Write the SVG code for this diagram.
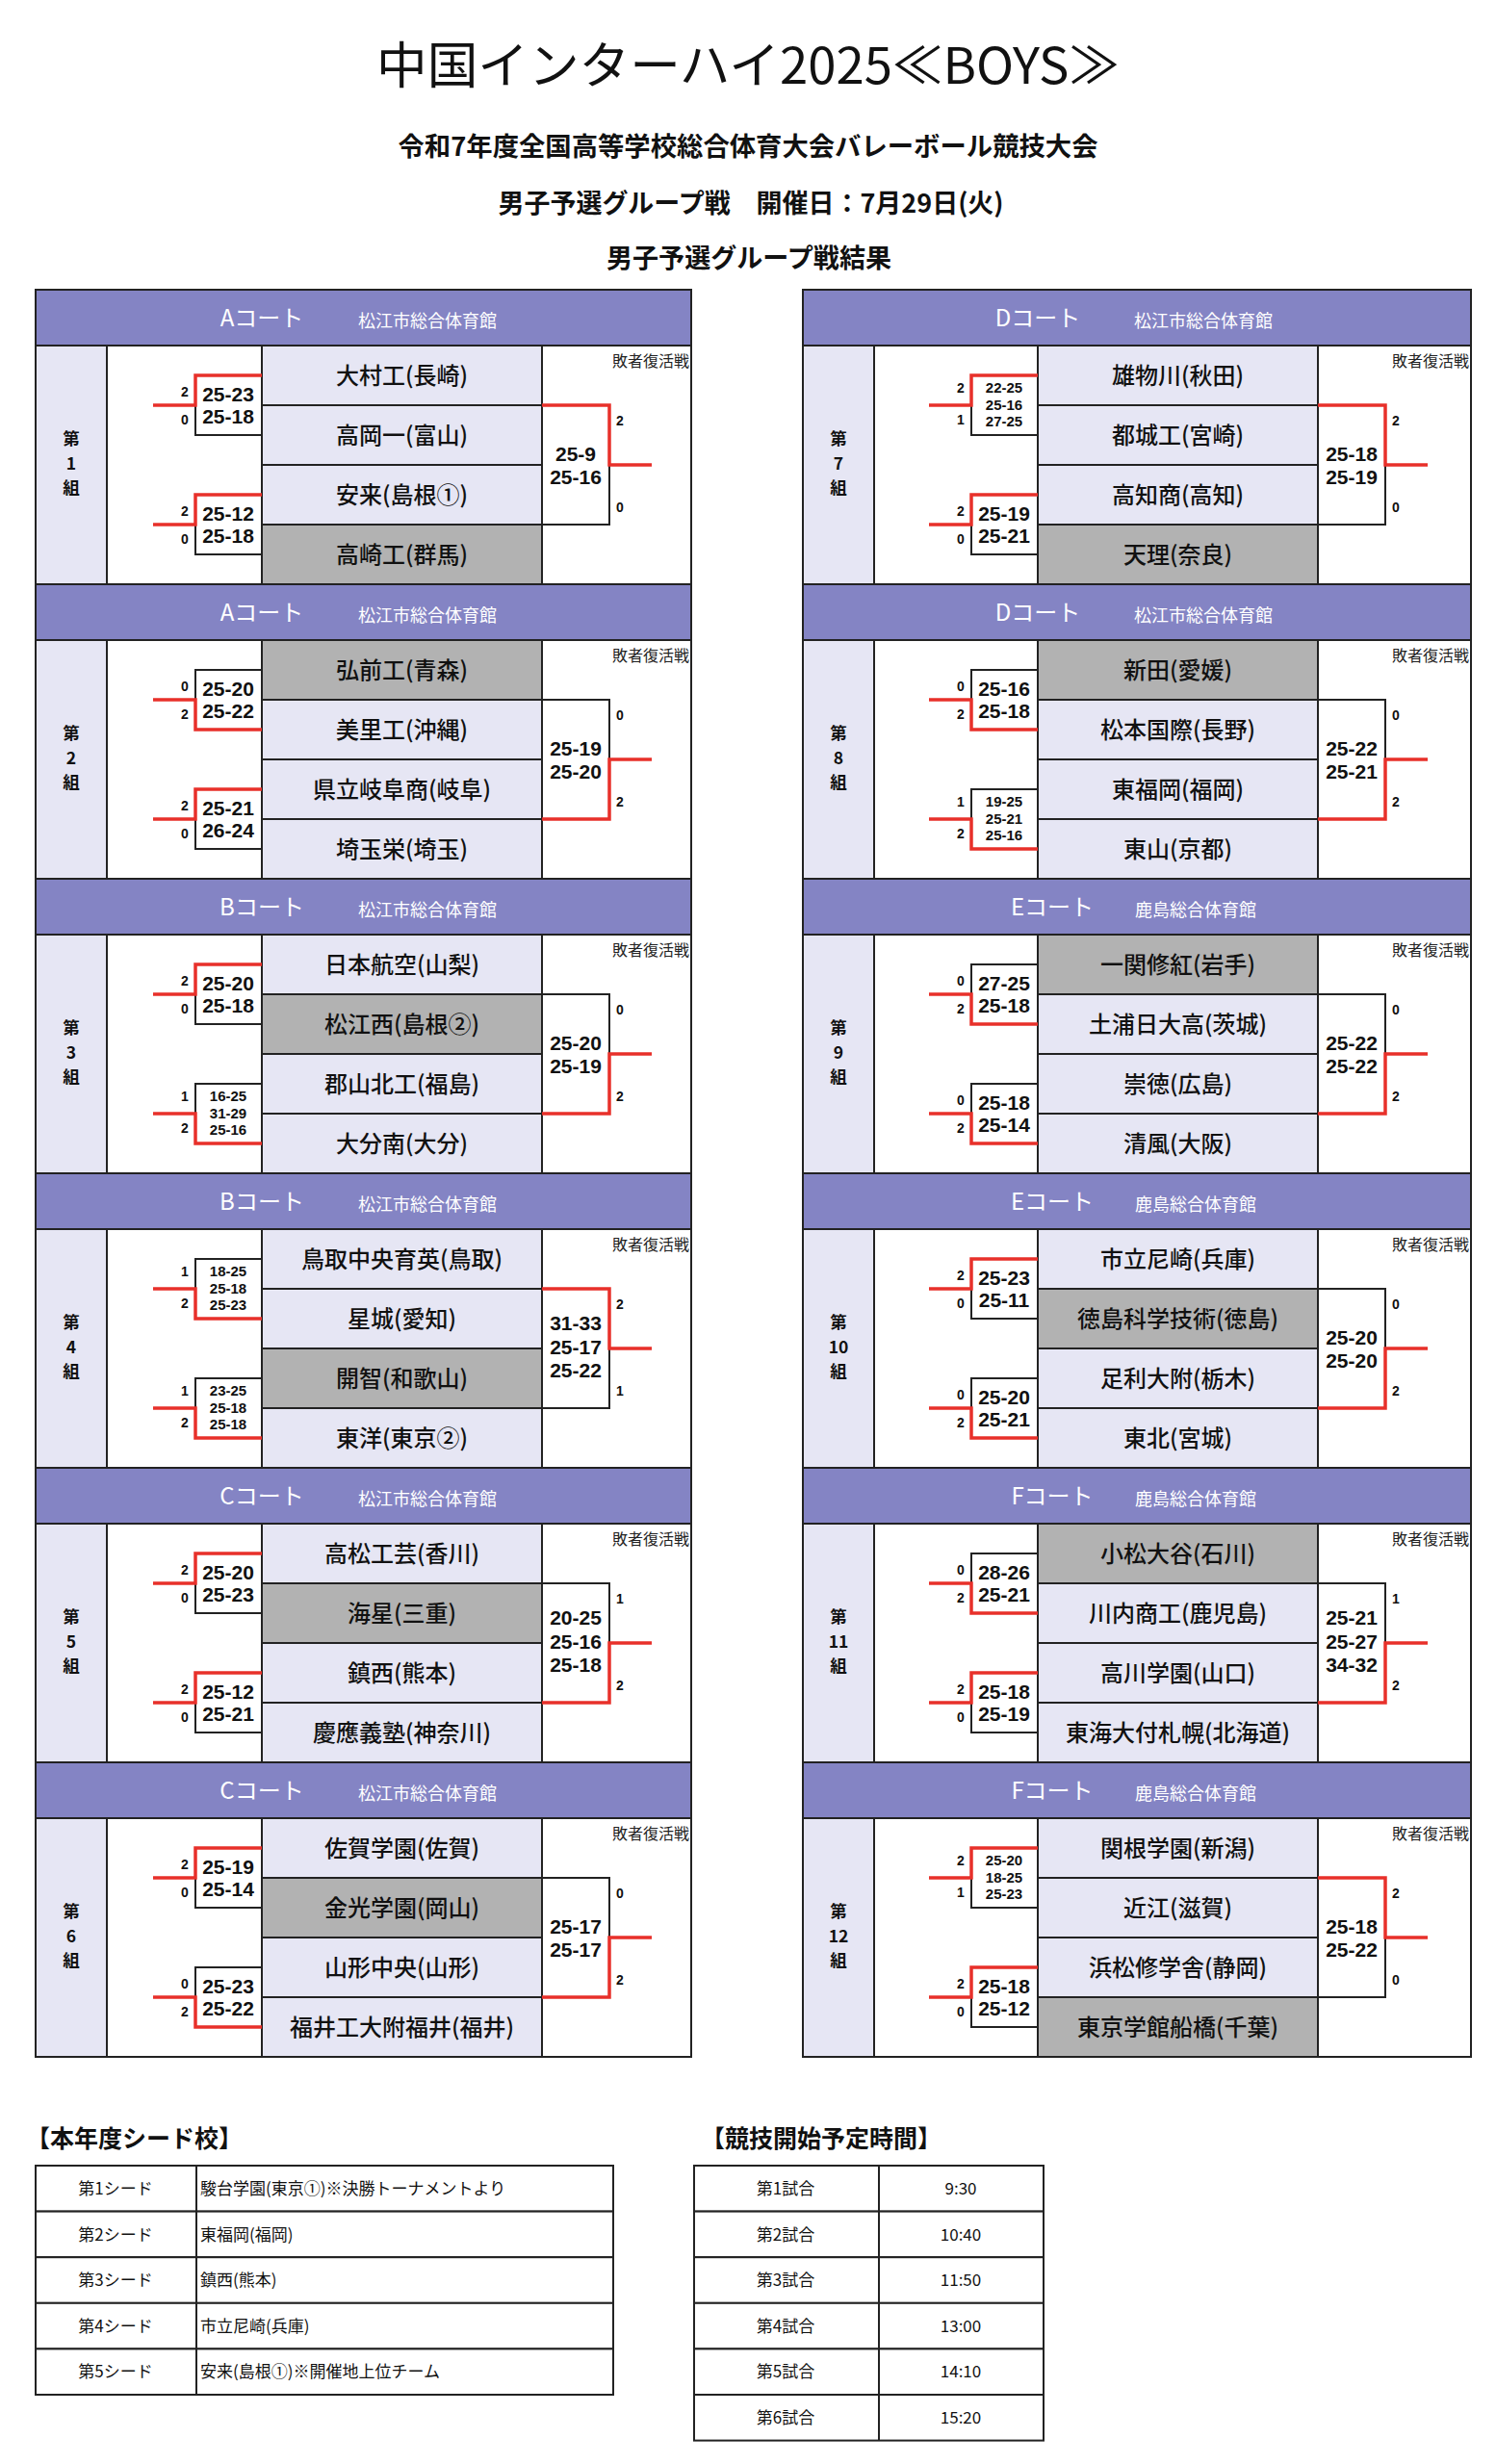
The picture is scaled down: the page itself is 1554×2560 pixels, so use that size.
<svg xmlns="http://www.w3.org/2000/svg" width="1554" height="2560" viewBox="0 0 1554 2560">
<style>
.bg{fill:#fff}
.hd{fill:#8484C4;stroke:#222;stroke-width:2}
.lc{fill:#E6E6F4;stroke:#222;stroke-width:2}
.wc{fill:#fff;stroke:#222;stroke-width:2}
.gy{fill:#B2B2B2;stroke:#222;stroke-width:2}
.bk{fill:none;stroke:#222;stroke-width:2}
.rd{fill:none;stroke:#E8302A;stroke-width:3.5}
.t1{font-family:"Noto Sans CJK JP",sans-serif;font-size:52px;fill:#111;text-anchor:middle}
.t2{font-family:"Noto Sans CJK JP",sans-serif;font-size:27px;font-weight:bold;fill:#111;text-anchor:middle}
.ct{font-family:"Noto Sans CJK JP",sans-serif;font-size:24px;fill:#fff;text-anchor:middle}
.vn{font-family:"Noto Sans CJK JP",sans-serif;font-size:18px;fill:#fff}
.tn{font-family:"Noto Sans CJK JP",sans-serif;font-size:24px;font-weight:500;fill:#111;text-anchor:middle}
.rv{font-family:"Noto Sans CJK JP",sans-serif;font-size:16px;fill:#222;text-anchor:end}
.gl{font-family:"Noto Sans CJK JP",sans-serif;font-size:17.5px;font-weight:bold;fill:#111;text-anchor:middle}
.s2{font-family:"Liberation Sans",Arial,sans-serif;font-size:21px;font-weight:bold;fill:#111;text-anchor:middle}
.s3{font-family:"Liberation Sans",Arial,sans-serif;font-size:15px;font-weight:bold;fill:#111;text-anchor:middle}
.nm{font-family:"Liberation Sans",Arial,sans-serif;font-size:14px;font-weight:bold;fill:#111;text-anchor:middle}
.sh{font-family:"Noto Sans CJK JP",sans-serif;font-size:25px;font-weight:bold;fill:#111}
.tb{font-family:"Noto Sans CJK JP",sans-serif;font-size:17px;fill:#111}
.tbc{font-family:"Noto Sans CJK JP",sans-serif;font-size:17px;fill:#111;text-anchor:middle}
</style>
<rect class="bg" x="0" y="0" width="1554" height="2560"/>

<g id="titles">
<text class="t1" x="777" y="87" textLength="772" lengthAdjust="spacingAndGlyphs">中国インターハイ2025≪BOYS≫</text>
<text class="t2" x="777" y="162" textLength="727" lengthAdjust="spacingAndGlyphs">令和7年度全国高等学校総合体育大会バレーボール競技大会</text>
<text class="t2" x="780" y="221" textLength="525" lengthAdjust="spacingAndGlyphs">男子予選グループ戦　開催日：7月29日(火)</text>
<text class="t2" x="778" y="278" textLength="296" lengthAdjust="spacingAndGlyphs">男子予選グループ戦結果</text>
</g>

<!-- LEFT TABLE GROUPS -->
<g id="group1" transform="translate(0,301)">
<rect class="hd" x="37" y="0" width="681" height="58"/>
<text class="ct" x="272" y="37.5">Aコート</text><text class="vn" x="372" y="38.5">松江市総合体育館</text>
<rect class="lc" x="37" y="58" width="74" height="248"/><rect class="wc" x="111" y="58" width="161" height="248"/>
<rect class="lc" x="272" y="58" width="291" height="62"/><rect class="lc" x="272" y="120" width="291" height="62"/><rect class="lc" x="272" y="182" width="291" height="62"/><rect class="gy" x="272" y="244" width="291" height="62"/>
<rect class="wc" x="563" y="58" width="155" height="248"/>
<text class="rv" x="716" y="80">敗者復活戦</text>
<text class="gl"><tspan x="74" y="161">第</tspan><tspan x="74" y="186.5">1</tspan><tspan x="74" y="212">組</tspan></text>
<text class="tn" x="417.5" y="97.5">大村工(長崎)</text><text class="tn" x="417.5" y="159.5">高岡一(富山)</text><text class="tn" x="417.5" y="221.5">安来(島根①)</text><text class="tn" x="417.5" y="283.5">高崎工(群馬)</text>
</g>
<g id="group2" transform="translate(0,607)">
<rect class="hd" x="37" y="0" width="681" height="58"/>
<text class="ct" x="272" y="37.5">Aコート</text><text class="vn" x="372" y="38.5">松江市総合体育館</text>
<rect class="lc" x="37" y="58" width="74" height="248"/><rect class="wc" x="111" y="58" width="161" height="248"/>
<rect class="gy" x="272" y="58" width="291" height="62"/><rect class="lc" x="272" y="120" width="291" height="62"/><rect class="lc" x="272" y="182" width="291" height="62"/><rect class="lc" x="272" y="244" width="291" height="62"/>
<rect class="wc" x="563" y="58" width="155" height="248"/>
<text class="rv" x="716" y="80">敗者復活戦</text>
<text class="gl"><tspan x="74" y="161">第</tspan><tspan x="74" y="186.5">2</tspan><tspan x="74" y="212">組</tspan></text>
<text class="tn" x="417.5" y="97.5">弘前工(青森)</text><text class="tn" x="417.5" y="159.5">美里工(沖縄)</text><text class="tn" x="417.5" y="221.5">県立岐阜商(岐阜)</text><text class="tn" x="417.5" y="283.5">埼玉栄(埼玉)</text>
</g>
<g id="group3" transform="translate(0,913)">
<rect class="hd" x="37" y="0" width="681" height="58"/>
<text class="ct" x="272" y="37.5">Bコート</text><text class="vn" x="372" y="38.5">松江市総合体育館</text>
<rect class="lc" x="37" y="58" width="74" height="248"/><rect class="wc" x="111" y="58" width="161" height="248"/>
<rect class="lc" x="272" y="58" width="291" height="62"/><rect class="gy" x="272" y="120" width="291" height="62"/><rect class="lc" x="272" y="182" width="291" height="62"/><rect class="lc" x="272" y="244" width="291" height="62"/>
<rect class="wc" x="563" y="58" width="155" height="248"/>
<text class="rv" x="716" y="80">敗者復活戦</text>
<text class="gl"><tspan x="74" y="161">第</tspan><tspan x="74" y="186.5">3</tspan><tspan x="74" y="212">組</tspan></text>
<text class="tn" x="417.5" y="97.5">日本航空(山梨)</text><text class="tn" x="417.5" y="159.5">松江西(島根②)</text><text class="tn" x="417.5" y="221.5">郡山北工(福島)</text><text class="tn" x="417.5" y="283.5">大分南(大分)</text>
</g>
<g id="group4" transform="translate(0,1219)">
<rect class="hd" x="37" y="0" width="681" height="58"/>
<text class="ct" x="272" y="37.5">Bコート</text><text class="vn" x="372" y="38.5">松江市総合体育館</text>
<rect class="lc" x="37" y="58" width="74" height="248"/><rect class="wc" x="111" y="58" width="161" height="248"/>
<rect class="lc" x="272" y="58" width="291" height="62"/><rect class="lc" x="272" y="120" width="291" height="62"/><rect class="gy" x="272" y="182" width="291" height="62"/><rect class="lc" x="272" y="244" width="291" height="62"/>
<rect class="wc" x="563" y="58" width="155" height="248"/>
<text class="rv" x="716" y="80">敗者復活戦</text>
<text class="gl"><tspan x="74" y="161">第</tspan><tspan x="74" y="186.5">4</tspan><tspan x="74" y="212">組</tspan></text>
<text class="tn" x="417.5" y="97.5">鳥取中央育英(鳥取)</text><text class="tn" x="417.5" y="159.5">星城(愛知)</text><text class="tn" x="417.5" y="221.5">開智(和歌山)</text><text class="tn" x="417.5" y="283.5">東洋(東京②)</text>
</g>
<g id="group5" transform="translate(0,1525)">
<rect class="hd" x="37" y="0" width="681" height="58"/>
<text class="ct" x="272" y="37.5">Cコート</text><text class="vn" x="372" y="38.5">松江市総合体育館</text>
<rect class="lc" x="37" y="58" width="74" height="248"/><rect class="wc" x="111" y="58" width="161" height="248"/>
<rect class="lc" x="272" y="58" width="291" height="62"/><rect class="gy" x="272" y="120" width="291" height="62"/><rect class="lc" x="272" y="182" width="291" height="62"/><rect class="lc" x="272" y="244" width="291" height="62"/>
<rect class="wc" x="563" y="58" width="155" height="248"/>
<text class="rv" x="716" y="80">敗者復活戦</text>
<text class="gl"><tspan x="74" y="161">第</tspan><tspan x="74" y="186.5">5</tspan><tspan x="74" y="212">組</tspan></text>
<text class="tn" x="417.5" y="97.5">高松工芸(香川)</text><text class="tn" x="417.5" y="159.5">海星(三重)</text><text class="tn" x="417.5" y="221.5">鎮西(熊本)</text><text class="tn" x="417.5" y="283.5">慶應義塾(神奈川)</text>
</g>
<g id="group6" transform="translate(0,1831)">
<rect class="hd" x="37" y="0" width="681" height="58"/>
<text class="ct" x="272" y="37.5">Cコート</text><text class="vn" x="372" y="38.5">松江市総合体育館</text>
<rect class="lc" x="37" y="58" width="74" height="248"/><rect class="wc" x="111" y="58" width="161" height="248"/>
<rect class="lc" x="272" y="58" width="291" height="62"/><rect class="gy" x="272" y="120" width="291" height="62"/><rect class="lc" x="272" y="182" width="291" height="62"/><rect class="lc" x="272" y="244" width="291" height="62"/>
<rect class="wc" x="563" y="58" width="155" height="248"/>
<text class="rv" x="716" y="80">敗者復活戦</text>
<text class="gl"><tspan x="74" y="161">第</tspan><tspan x="74" y="186.5">6</tspan><tspan x="74" y="212">組</tspan></text>
<text class="tn" x="417.5" y="97.5">佐賀学園(佐賀)</text><text class="tn" x="417.5" y="159.5">金光学園(岡山)</text><text class="tn" x="417.5" y="221.5">山形中央(山形)</text><text class="tn" x="417.5" y="283.5">福井工大附福井(福井)</text>
</g>

<!-- RIGHT TABLE GROUPS -->
<g id="group7" transform="translate(0,301)">
<rect class="hd" x="834" y="0" width="694" height="58"/>
<text class="ct" x="1078" y="37.5">Dコート</text><text class="vn" x="1178" y="38.5">松江市総合体育館</text>
<rect class="lc" x="834" y="58" width="74" height="248"/><rect class="wc" x="908" y="58" width="170" height="248"/>
<rect class="lc" x="1078" y="58" width="291" height="62"/><rect class="lc" x="1078" y="120" width="291" height="62"/><rect class="lc" x="1078" y="182" width="291" height="62"/><rect class="gy" x="1078" y="244" width="291" height="62"/>
<rect class="wc" x="1369" y="58" width="159" height="248"/>
<text class="rv" x="1526" y="80">敗者復活戦</text>
<text class="gl"><tspan x="871" y="161">第</tspan><tspan x="871" y="186.5">7</tspan><tspan x="871" y="212">組</tspan></text>
<text class="tn" x="1223.5" y="97.5">雄物川(秋田)</text><text class="tn" x="1223.5" y="159.5">都城工(宮崎)</text><text class="tn" x="1223.5" y="221.5">高知商(高知)</text><text class="tn" x="1223.5" y="283.5">天理(奈良)</text>
</g>
<g id="group8" transform="translate(0,607)">
<rect class="hd" x="834" y="0" width="694" height="58"/>
<text class="ct" x="1078" y="37.5">Dコート</text><text class="vn" x="1178" y="38.5">松江市総合体育館</text>
<rect class="lc" x="834" y="58" width="74" height="248"/><rect class="wc" x="908" y="58" width="170" height="248"/>
<rect class="gy" x="1078" y="58" width="291" height="62"/><rect class="lc" x="1078" y="120" width="291" height="62"/><rect class="lc" x="1078" y="182" width="291" height="62"/><rect class="lc" x="1078" y="244" width="291" height="62"/>
<rect class="wc" x="1369" y="58" width="159" height="248"/>
<text class="rv" x="1526" y="80">敗者復活戦</text>
<text class="gl"><tspan x="871" y="161">第</tspan><tspan x="871" y="186.5">8</tspan><tspan x="871" y="212">組</tspan></text>
<text class="tn" x="1223.5" y="97.5">新田(愛媛)</text><text class="tn" x="1223.5" y="159.5">松本国際(長野)</text><text class="tn" x="1223.5" y="221.5">東福岡(福岡)</text><text class="tn" x="1223.5" y="283.5">東山(京都)</text>
</g>
<g id="group9" transform="translate(0,913)">
<rect class="hd" x="834" y="0" width="694" height="58"/>
<text class="ct" x="1093" y="37.5">Eコート</text><text class="vn" x="1179" y="38.5">鹿島総合体育館</text>
<rect class="lc" x="834" y="58" width="74" height="248"/><rect class="wc" x="908" y="58" width="170" height="248"/>
<rect class="gy" x="1078" y="58" width="291" height="62"/><rect class="lc" x="1078" y="120" width="291" height="62"/><rect class="lc" x="1078" y="182" width="291" height="62"/><rect class="lc" x="1078" y="244" width="291" height="62"/>
<rect class="wc" x="1369" y="58" width="159" height="248"/>
<text class="rv" x="1526" y="80">敗者復活戦</text>
<text class="gl"><tspan x="871" y="161">第</tspan><tspan x="871" y="186.5">9</tspan><tspan x="871" y="212">組</tspan></text>
<text class="tn" x="1223.5" y="97.5">一関修紅(岩手)</text><text class="tn" x="1223.5" y="159.5">土浦日大高(茨城)</text><text class="tn" x="1223.5" y="221.5">崇徳(広島)</text><text class="tn" x="1223.5" y="283.5">清風(大阪)</text>
</g>
<g id="group10" transform="translate(0,1219)">
<rect class="hd" x="834" y="0" width="694" height="58"/>
<text class="ct" x="1093" y="37.5">Eコート</text><text class="vn" x="1179" y="38.5">鹿島総合体育館</text>
<rect class="lc" x="834" y="58" width="74" height="248"/><rect class="wc" x="908" y="58" width="170" height="248"/>
<rect class="lc" x="1078" y="58" width="291" height="62"/><rect class="gy" x="1078" y="120" width="291" height="62"/><rect class="lc" x="1078" y="182" width="291" height="62"/><rect class="lc" x="1078" y="244" width="291" height="62"/>
<rect class="wc" x="1369" y="58" width="159" height="248"/>
<text class="rv" x="1526" y="80">敗者復活戦</text>
<text class="gl"><tspan x="871" y="161">第</tspan><tspan x="871" y="186.5">10</tspan><tspan x="871" y="212">組</tspan></text>
<text class="tn" x="1223.5" y="97.5">市立尼崎(兵庫)</text><text class="tn" x="1223.5" y="159.5">徳島科学技術(徳島)</text><text class="tn" x="1223.5" y="221.5">足利大附(栃木)</text><text class="tn" x="1223.5" y="283.5">東北(宮城)</text>
</g>
<g id="group11" transform="translate(0,1525)">
<rect class="hd" x="834" y="0" width="694" height="58"/>
<text class="ct" x="1093" y="37.5">Fコート</text><text class="vn" x="1179" y="38.5">鹿島総合体育館</text>
<rect class="lc" x="834" y="58" width="74" height="248"/><rect class="wc" x="908" y="58" width="170" height="248"/>
<rect class="gy" x="1078" y="58" width="291" height="62"/><rect class="lc" x="1078" y="120" width="291" height="62"/><rect class="lc" x="1078" y="182" width="291" height="62"/><rect class="lc" x="1078" y="244" width="291" height="62"/>
<rect class="wc" x="1369" y="58" width="159" height="248"/>
<text class="rv" x="1526" y="80">敗者復活戦</text>
<text class="gl"><tspan x="871" y="161">第</tspan><tspan x="871" y="186.5">11</tspan><tspan x="871" y="212">組</tspan></text>
<text class="tn" x="1223.5" y="97.5">小松大谷(石川)</text><text class="tn" x="1223.5" y="159.5">川内商工(鹿児島)</text><text class="tn" x="1223.5" y="221.5">高川学園(山口)</text><text class="tn" x="1223.5" y="283.5">東海大付札幌(北海道)</text>
</g>
<g id="group12" transform="translate(0,1831)">
<rect class="hd" x="834" y="0" width="694" height="58"/>
<text class="ct" x="1093" y="37.5">Fコート</text><text class="vn" x="1179" y="38.5">鹿島総合体育館</text>
<rect class="lc" x="834" y="58" width="74" height="248"/><rect class="wc" x="908" y="58" width="170" height="248"/>
<rect class="lc" x="1078" y="58" width="291" height="62"/><rect class="lc" x="1078" y="120" width="291" height="62"/><rect class="lc" x="1078" y="182" width="291" height="62"/><rect class="gy" x="1078" y="244" width="291" height="62"/>
<rect class="wc" x="1369" y="58" width="159" height="248"/>
<text class="rv" x="1526" y="80">敗者復活戦</text>
<text class="gl"><tspan x="871" y="161">第</tspan><tspan x="871" y="186.5">12</tspan><tspan x="871" y="212">組</tspan></text>
<text class="tn" x="1223.5" y="97.5">関根学園(新潟)</text><text class="tn" x="1223.5" y="159.5">近江(滋賀)</text><text class="tn" x="1223.5" y="221.5">浜松修学舎(静岡)</text><text class="tn" x="1223.5" y="283.5">東京学館船橋(千葉)</text>
</g>

<!-- CONNECTORS (brackets and scores) -->
<g id="connectors">
<g id="c1" transform="translate(0,301)">
<path class="bk" d="M203 120V151H272"/><path class="rd" d="M159 120H203V89H272"/>
<text class="nm" x="192" y="111">2</text><text class="nm" x="192" y="140">0</text>
<text class="s2" x="237" y="115.5">25-23</text><text class="s2" x="237" y="138.5">25-18</text>
<path class="bk" d="M203 244V275H272"/><path class="rd" d="M159 244H203V213H272"/>
<text class="nm" x="192" y="235">2</text><text class="nm" x="192" y="264">0</text>
<text class="s2" x="237" y="239.5">25-12</text><text class="s2" x="237" y="262.5">25-18</text>
<path class="bk" d="M563 244H633V182"/><path class="rd" d="M563 120H633V182H677"/>
<text class="nm" x="644" y="141">2</text><text class="nm" x="644" y="231">0</text>
<text class="s2" x="598" y="177.5">25-9</text><text class="s2" x="598" y="201.5">25-16</text>
</g>
<g id="c2" transform="translate(0,607)">
<path class="bk" d="M203 120V89H272"/><path class="rd" d="M159 120H203V151H272"/>
<text class="nm" x="192" y="111">0</text><text class="nm" x="192" y="140">2</text>
<text class="s2" x="237" y="115.5">25-20</text><text class="s2" x="237" y="138.5">25-22</text>
<path class="bk" d="M203 244V275H272"/><path class="rd" d="M159 244H203V213H272"/>
<text class="nm" x="192" y="235">2</text><text class="nm" x="192" y="264">0</text>
<text class="s2" x="237" y="239.5">25-21</text><text class="s2" x="237" y="262.5">26-24</text>
<path class="bk" d="M563 120H633V182"/><path class="rd" d="M563 244H633V182H677"/>
<text class="nm" x="644" y="141">0</text><text class="nm" x="644" y="231">2</text>
<text class="s2" x="598" y="177.5">25-19</text><text class="s2" x="598" y="201.5">25-20</text>
</g>
<g id="c3" transform="translate(0,913)">
<path class="bk" d="M203 120V151H272"/><path class="rd" d="M159 120H203V89H272"/>
<text class="nm" x="192" y="111">2</text><text class="nm" x="192" y="140">0</text>
<text class="s2" x="237" y="115.5">25-20</text><text class="s2" x="237" y="138.5">25-18</text>
<path class="bk" d="M203 244V213H272"/><path class="rd" d="M159 244H203V275H272"/>
<text class="nm" x="192" y="231">1</text><text class="nm" x="192" y="264">2</text>
<text class="s3"><tspan x="237" y="231">16-25</tspan><tspan x="237" y="248.5">31-29</tspan><tspan x="237" y="266">25-16</tspan></text>
<path class="bk" d="M563 120H633V182"/><path class="rd" d="M563 244H633V182H677"/>
<text class="nm" x="644" y="141">0</text><text class="nm" x="644" y="231">2</text>
<text class="s2" x="598" y="177.5">25-20</text><text class="s2" x="598" y="201.5">25-19</text>
</g>
<g id="c4" transform="translate(0,1219)">
<path class="bk" d="M203 120V89H272"/><path class="rd" d="M159 120H203V151H272"/>
<text class="nm" x="192" y="107">1</text><text class="nm" x="192" y="140">2</text>
<text class="s3"><tspan x="237" y="107">18-25</tspan><tspan x="237" y="124.5">25-18</tspan><tspan x="237" y="142">25-23</tspan></text>
<path class="bk" d="M203 244V213H272"/><path class="rd" d="M159 244H203V275H272"/>
<text class="nm" x="192" y="231">1</text><text class="nm" x="192" y="264">2</text>
<text class="s3"><tspan x="237" y="231">23-25</tspan><tspan x="237" y="248.5">25-18</tspan><tspan x="237" y="266">25-18</tspan></text>
<path class="bk" d="M563 244H633V182"/><path class="rd" d="M563 120H633V182H677"/>
<text class="nm" x="644" y="141">2</text><text class="nm" x="644" y="231">1</text>
<text class="s2"><tspan x="598" y="162.5">31-33</tspan><tspan x="598" y="187.5">25-17</tspan><tspan x="598" y="212">25-22</tspan></text>
</g>
<g id="c5" transform="translate(0,1525)">
<path class="bk" d="M203 120V151H272"/><path class="rd" d="M159 120H203V89H272"/>
<text class="nm" x="192" y="111">2</text><text class="nm" x="192" y="140">0</text>
<text class="s2" x="237" y="115.5">25-20</text><text class="s2" x="237" y="138.5">25-23</text>
<path class="bk" d="M203 244V275H272"/><path class="rd" d="M159 244H203V213H272"/>
<text class="nm" x="192" y="235">2</text><text class="nm" x="192" y="264">0</text>
<text class="s2" x="237" y="239.5">25-12</text><text class="s2" x="237" y="262.5">25-21</text>
<path class="bk" d="M563 120H633V182"/><path class="rd" d="M563 244H633V182H677"/>
<text class="nm" x="644" y="141">1</text><text class="nm" x="644" y="231">2</text>
<text class="s2"><tspan x="598" y="162.5">20-25</tspan><tspan x="598" y="187.5">25-16</tspan><tspan x="598" y="212">25-18</tspan></text>
</g>
<g id="c6" transform="translate(0,1831)">
<path class="bk" d="M203 120V151H272"/><path class="rd" d="M159 120H203V89H272"/>
<text class="nm" x="192" y="111">2</text><text class="nm" x="192" y="140">0</text>
<text class="s2" x="237" y="115.5">25-19</text><text class="s2" x="237" y="138.5">25-14</text>
<path class="bk" d="M203 244V213H272"/><path class="rd" d="M159 244H203V275H272"/>
<text class="nm" x="192" y="235">0</text><text class="nm" x="192" y="264">2</text>
<text class="s2" x="237" y="239.5">25-23</text><text class="s2" x="237" y="262.5">25-22</text>
<path class="bk" d="M563 120H633V182"/><path class="rd" d="M563 244H633V182H677"/>
<text class="nm" x="644" y="141">0</text><text class="nm" x="644" y="231">2</text>
<text class="s2" x="598" y="177.5">25-17</text><text class="s2" x="598" y="201.5">25-17</text>
</g>
<g id="c7" transform="translate(0,301)">
<path class="bk" d="M1009 120V151H1078"/><path class="rd" d="M965 120H1009V89H1078"/>
<text class="nm" x="998" y="107">2</text><text class="nm" x="998" y="140">1</text>
<text class="s3"><tspan x="1043" y="107">22-25</tspan><tspan x="1043" y="124.5">25-16</tspan><tspan x="1043" y="142">27-25</tspan></text>
<path class="bk" d="M1009 244V275H1078"/><path class="rd" d="M965 244H1009V213H1078"/>
<text class="nm" x="998" y="235">2</text><text class="nm" x="998" y="264">0</text>
<text class="s2" x="1043" y="239.5">25-19</text><text class="s2" x="1043" y="262.5">25-21</text>
<path class="bk" d="M1369 244H1439V182"/><path class="rd" d="M1369 120H1439V182H1483"/>
<text class="nm" x="1450" y="141">2</text><text class="nm" x="1450" y="231">0</text>
<text class="s2" x="1404" y="177.5">25-18</text><text class="s2" x="1404" y="201.5">25-19</text>
</g>
<g id="c8" transform="translate(0,607)">
<path class="bk" d="M1009 120V89H1078"/><path class="rd" d="M965 120H1009V151H1078"/>
<text class="nm" x="998" y="111">0</text><text class="nm" x="998" y="140">2</text>
<text class="s2" x="1043" y="115.5">25-16</text><text class="s2" x="1043" y="138.5">25-18</text>
<path class="bk" d="M1009 244V213H1078"/><path class="rd" d="M965 244H1009V275H1078"/>
<text class="nm" x="998" y="231">1</text><text class="nm" x="998" y="264">2</text>
<text class="s3"><tspan x="1043" y="231">19-25</tspan><tspan x="1043" y="248.5">25-21</tspan><tspan x="1043" y="266">25-16</tspan></text>
<path class="bk" d="M1369 120H1439V182"/><path class="rd" d="M1369 244H1439V182H1483"/>
<text class="nm" x="1450" y="141">0</text><text class="nm" x="1450" y="231">2</text>
<text class="s2" x="1404" y="177.5">25-22</text><text class="s2" x="1404" y="201.5">25-21</text>
</g>
<g id="c9" transform="translate(0,913)">
<path class="bk" d="M1009 120V89H1078"/><path class="rd" d="M965 120H1009V151H1078"/>
<text class="nm" x="998" y="111">0</text><text class="nm" x="998" y="140">2</text>
<text class="s2" x="1043" y="115.5">27-25</text><text class="s2" x="1043" y="138.5">25-18</text>
<path class="bk" d="M1009 244V213H1078"/><path class="rd" d="M965 244H1009V275H1078"/>
<text class="nm" x="998" y="235">0</text><text class="nm" x="998" y="264">2</text>
<text class="s2" x="1043" y="239.5">25-18</text><text class="s2" x="1043" y="262.5">25-14</text>
<path class="bk" d="M1369 120H1439V182"/><path class="rd" d="M1369 244H1439V182H1483"/>
<text class="nm" x="1450" y="141">0</text><text class="nm" x="1450" y="231">2</text>
<text class="s2" x="1404" y="177.5">25-22</text><text class="s2" x="1404" y="201.5">25-22</text>
</g>
<g id="c10" transform="translate(0,1219)">
<path class="bk" d="M1009 120V151H1078"/><path class="rd" d="M965 120H1009V89H1078"/>
<text class="nm" x="998" y="111">2</text><text class="nm" x="998" y="140">0</text>
<text class="s2" x="1043" y="115.5">25-23</text><text class="s2" x="1043" y="138.5">25-11</text>
<path class="bk" d="M1009 244V213H1078"/><path class="rd" d="M965 244H1009V275H1078"/>
<text class="nm" x="998" y="235">0</text><text class="nm" x="998" y="264">2</text>
<text class="s2" x="1043" y="239.5">25-20</text><text class="s2" x="1043" y="262.5">25-21</text>
<path class="bk" d="M1369 120H1439V182"/><path class="rd" d="M1369 244H1439V182H1483"/>
<text class="nm" x="1450" y="141">0</text><text class="nm" x="1450" y="231">2</text>
<text class="s2" x="1404" y="177.5">25-20</text><text class="s2" x="1404" y="201.5">25-20</text>
</g>
<g id="c11" transform="translate(0,1525)">
<path class="bk" d="M1009 120V89H1078"/><path class="rd" d="M965 120H1009V151H1078"/>
<text class="nm" x="998" y="111">0</text><text class="nm" x="998" y="140">2</text>
<text class="s2" x="1043" y="115.5">28-26</text><text class="s2" x="1043" y="138.5">25-21</text>
<path class="bk" d="M1009 244V275H1078"/><path class="rd" d="M965 244H1009V213H1078"/>
<text class="nm" x="998" y="235">2</text><text class="nm" x="998" y="264">0</text>
<text class="s2" x="1043" y="239.5">25-18</text><text class="s2" x="1043" y="262.5">25-19</text>
<path class="bk" d="M1369 120H1439V182"/><path class="rd" d="M1369 244H1439V182H1483"/>
<text class="nm" x="1450" y="141">1</text><text class="nm" x="1450" y="231">2</text>
<text class="s2"><tspan x="1404" y="162.5">25-21</tspan><tspan x="1404" y="187.5">25-27</tspan><tspan x="1404" y="212">34-32</tspan></text>
</g>
<g id="c12" transform="translate(0,1831)">
<path class="bk" d="M1009 120V151H1078"/><path class="rd" d="M965 120H1009V89H1078"/>
<text class="nm" x="998" y="107">2</text><text class="nm" x="998" y="140">1</text>
<text class="s3"><tspan x="1043" y="107">25-20</tspan><tspan x="1043" y="124.5">18-25</tspan><tspan x="1043" y="142">25-23</tspan></text>
<path class="bk" d="M1009 244V275H1078"/><path class="rd" d="M965 244H1009V213H1078"/>
<text class="nm" x="998" y="235">2</text><text class="nm" x="998" y="264">0</text>
<text class="s2" x="1043" y="239.5">25-18</text><text class="s2" x="1043" y="262.5">25-12</text>
<path class="bk" d="M1369 244H1439V182"/><path class="rd" d="M1369 120H1439V182H1483"/>
<text class="nm" x="1450" y="141">2</text><text class="nm" x="1450" y="231">0</text>
<text class="s2" x="1404" y="177.5">25-18</text><text class="s2" x="1404" y="201.5">25-22</text>
</g>
</g>

<!-- SEED TABLE -->
<g id="seeds">
<text class="sh" x="27" y="2231">【本年度シード校】</text>
<rect class="wc" x="37" y="2250" width="600" height="47.6"/><rect class="wc" x="37" y="2297.6" width="600" height="47.6"/><rect class="wc" x="37" y="2345.2" width="600" height="47.6"/><rect class="wc" x="37" y="2392.8" width="600" height="47.6"/><rect class="wc" x="37" y="2440.4" width="600" height="47.6"/>
<path class="bk" d="M204 2250V2488"/>
<text class="tbc" x="120" y="2280">第1シード</text><text class="tb" x="208" y="2280">駿台学園(東京①)※決勝トーナメントより</text>
<text class="tbc" x="120" y="2327.6">第2シード</text><text class="tb" x="208" y="2327.6">東福岡(福岡)</text>
<text class="tbc" x="120" y="2375.2">第3シード</text><text class="tb" x="208" y="2375.2">鎮西(熊本)</text>
<text class="tbc" x="120" y="2422.8">第4シード</text><text class="tb" x="208" y="2422.8">市立尼崎(兵庫)</text>
<text class="tbc" x="120" y="2470.4">第5シード</text><text class="tb" x="208" y="2470.4">安来(島根①)※開催地上位チーム</text>
</g>

<!-- SCHEDULE TABLE -->
<g id="schedule">
<text class="sh" x="728" y="2231">【競技開始予定時間】</text>
<rect class="wc" x="721" y="2250" width="363" height="47.6"/><rect class="wc" x="721" y="2297.6" width="363" height="47.6"/><rect class="wc" x="721" y="2345.2" width="363" height="47.6"/><rect class="wc" x="721" y="2392.8" width="363" height="47.6"/><rect class="wc" x="721" y="2440.4" width="363" height="47.6"/><rect class="wc" x="721" y="2488" width="363" height="47.6"/>
<path class="bk" d="M913 2250V2535.6"/>
<text class="tbc" x="816" y="2280">第1試合</text><text class="tbc" x="998" y="2280">9:30</text>
<text class="tbc" x="816" y="2327.6">第2試合</text><text class="tbc" x="998" y="2327.6">10:40</text>
<text class="tbc" x="816" y="2375.2">第3試合</text><text class="tbc" x="998" y="2375.2">11:50</text>
<text class="tbc" x="816" y="2422.8">第4試合</text><text class="tbc" x="998" y="2422.8">13:00</text>
<text class="tbc" x="816" y="2470.4">第5試合</text><text class="tbc" x="998" y="2470.4">14:10</text>
<text class="tbc" x="816" y="2518">第6試合</text><text class="tbc" x="998" y="2518">15:20</text>
</g>
</svg>
